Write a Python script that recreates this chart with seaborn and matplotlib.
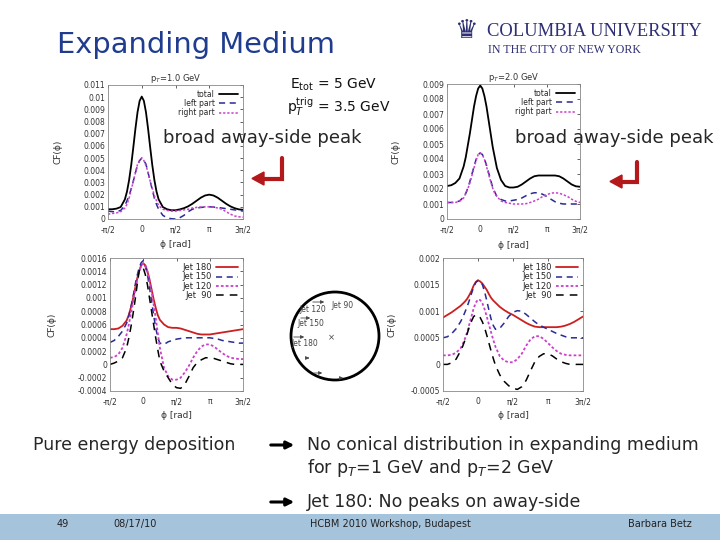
import numpy as np
import matplotlib
matplotlib.use("Agg")
import matplotlib.pyplot as plt
import seaborn as sns
from matplotlib.patches import Rectangle, Circle

# phi grid in units of pi/32 from -pi/2 to 3pi/2 (finer around the near-side peak)
phi_k = list(range(-16, -8, 2)) + list(range(-8, 9)) + list(range(10, 49, 2))

# top left panel: pT = 1.0 GeV
tl_total = [0.00080, 0.00080, 0.00085, 0.00098, 0.00161,
            0.00225, 0.00319, 0.00442, 0.00588, 0.00741, 0.00877, 0.00970, 0.01005, 0.00970,
            0.00877, 0.00741, 0.00588, 0.00442, 0.00319, 0.00225, 0.00161,
            0.00098, 0.00080, 0.00072, 0.00072, 0.00079, 0.00089, 0.00104, 0.00125, 0.00150,
            0.00175, 0.00193, 0.00200, 0.00193, 0.00175, 0.00150, 0.00125, 0.00104, 0.00089,
            0.00079, 0.00076]
tl_left = [0.00065, 0.00060, 0.00060, 0.00070, 0.00110,
           0.00150, 0.00190, 0.00250, 0.00310, 0.00380, 0.00440, 0.00480, 0.00500, 0.00480,
           0.00450, 0.00380, 0.00310, 0.00240, 0.00170, 0.00120, 0.00080,
           0.00030, 0.00010, 0.00002, 0.00000, 0.00010, 0.00030, 0.00060, 0.00080, 0.00090,
           0.00095, 0.00098, 0.00100, 0.00098, 0.00095, 0.00090, 0.00085, 0.00080, 0.00075,
           0.00070, 0.00065]
tl_right = [0.00040, 0.00045, 0.00050, 0.00060, 0.00090,
            0.00120, 0.00170, 0.00240, 0.00310, 0.00380, 0.00450, 0.00480, 0.00500, 0.00480,
            0.00440, 0.00380, 0.00310, 0.00250, 0.00190, 0.00150, 0.00110,
            0.00080, 0.00070, 0.00065, 0.00065, 0.00070, 0.00075, 0.00080, 0.00090, 0.00095,
            0.00098, 0.00100, 0.00100, 0.00098, 0.00090, 0.00080, 0.00060, 0.00040, 0.00025,
            0.00018, 0.00015]

# top right panel: pT = 2.0 GeV
tr_total = [0.00220, 0.00225, 0.00240, 0.00270, 0.00350,
            0.00410, 0.00490, 0.00570, 0.00660, 0.00750, 0.00820, 0.00870, 0.00890, 0.00870,
            0.00820, 0.00750, 0.00660, 0.00570, 0.00480, 0.00410, 0.00340,
            0.00260, 0.00220, 0.00210, 0.00210, 0.00215, 0.00230, 0.00250, 0.00270, 0.00285,
            0.00290, 0.00290, 0.00290, 0.00290, 0.00290, 0.00285, 0.00270, 0.00250, 0.00230,
            0.00218, 0.00215]
tr_left = [0.00110, 0.00110, 0.00112, 0.00120, 0.00146,
           0.00170, 0.00205, 0.00250, 0.00300, 0.00350, 0.00397, 0.00430, 0.00440, 0.00430,
           0.00400, 0.00360, 0.00310, 0.00260, 0.00210, 0.00180, 0.00150,
           0.00130, 0.00120, 0.00120, 0.00125, 0.00130, 0.00140, 0.00155, 0.00168, 0.00175,
           0.00175, 0.00165, 0.00150, 0.00132, 0.00115, 0.00105, 0.00100, 0.00100, 0.00100,
           0.00100, 0.00100]
tr_right = [0.00110, 0.00110, 0.00110, 0.00118, 0.00140,
            0.00170, 0.00200, 0.00240, 0.00290, 0.00340, 0.00390, 0.00430, 0.00440, 0.00430,
            0.00397, 0.00350, 0.00300, 0.00250, 0.00205, 0.00170, 0.00150,
            0.00120, 0.00110, 0.00105, 0.00100, 0.00100, 0.00100, 0.00102, 0.00110, 0.00120,
            0.00132, 0.00150, 0.00162, 0.00172, 0.00175, 0.00172, 0.00162, 0.00150, 0.00132,
            0.00118, 0.00110]

# bottom left panel: jets
bl_jet180 = [0.00053, 0.00053, 0.00054, 0.00058, 0.00066,
             0.00074, 0.00085, 0.00098, 0.00113, 0.00128, 0.00140, 0.00149, 0.00152, 0.00149,
             0.00140, 0.00128, 0.00113, 0.00098, 0.00085, 0.00074, 0.00067,
             0.00060, 0.00056, 0.00055, 0.00055, 0.00054, 0.00052, 0.00050, 0.00048, 0.00046,
             0.00045, 0.00045, 0.00045, 0.00046, 0.00047, 0.00048, 0.00049, 0.00050, 0.00051,
             0.00052, 0.00053]
bl_jet150 = [0.00033, 0.00036, 0.00042, 0.00050, 0.00062,
             0.00072, 0.00085, 0.00100, 0.00118, 0.00133, 0.00145, 0.00153, 0.00156, 0.00148,
             0.00135, 0.00116, 0.00095, 0.00074, 0.00055, 0.00040, 0.00032,
             0.00030, 0.00034, 0.00036, 0.00038, 0.00039, 0.00040, 0.00040, 0.00040, 0.00040,
             0.00040, 0.00040, 0.00040, 0.00039, 0.00038, 0.00036, 0.00035, 0.00034, 0.00033,
             0.00032, 0.00032]
bl_jet120 = [0.00010, 0.00011, 0.00015, 0.00025, 0.00045,
             0.00059, 0.00075, 0.00092, 0.00110, 0.00126, 0.00140, 0.00148, 0.00152, 0.00148,
             0.00140, 0.00126, 0.00110, 0.00090, 0.00070, 0.00047, 0.00025,
             -0.00005, -0.00018, -0.00023, -0.00023, -0.00020, -0.00012, -0.00002, 0.00010,
             0.00020, 0.00027, 0.00030, 0.00030, 0.00027, 0.00022, 0.00017, 0.00013, 0.00010,
             0.00009, 0.00008, 0.00008]
bl_jet90 = [0.00000, 0.00002, 0.00005, 0.00010, 0.00025,
            0.00039, 0.00055, 0.00074, 0.00095, 0.00118, 0.00140, 0.00146, 0.00145, 0.00135,
            0.00120, 0.00100, 0.00080, 0.00060, 0.00040, 0.00022, 0.00005,
            -0.00010, -0.00020, -0.00030, -0.00035, -0.00036, -0.00030, -0.00018, -0.00005,
            0.00003, 0.00007, 0.00010, 0.00010, 0.00009, 0.00007, 0.00005, 0.00003, 0.00001,
            0.00000, 0.00000, 0.00000]

# bottom right panel: jets
br_jet180 = [0.00088, 0.00093, 0.00098, 0.00104, 0.00110,
             0.00114, 0.00118, 0.00123, 0.00130, 0.00138, 0.00148, 0.00155, 0.00158, 0.00156,
             0.00152, 0.00146, 0.00140, 0.00132, 0.00125, 0.00120, 0.00116,
             0.00108, 0.00102, 0.00097, 0.00093, 0.00088, 0.00083, 0.00078, 0.00074, 0.00071,
             0.00070, 0.00070, 0.00070, 0.00070, 0.00070, 0.00071, 0.00073, 0.00076, 0.00080,
             0.00085, 0.00090]
br_jet150 = [0.00050, 0.00052, 0.00058, 0.00067, 0.00080,
             0.00088, 0.00098, 0.00108, 0.00120, 0.00133, 0.00145, 0.00154, 0.00158, 0.00156,
             0.00150, 0.00137, 0.00120, 0.00102, 0.00085, 0.00073, 0.00066,
             0.00068, 0.00078, 0.00090, 0.00098, 0.00101, 0.00100, 0.00094, 0.00087, 0.00080,
             0.00074, 0.00070, 0.00066, 0.00062, 0.00058, 0.00055, 0.00052, 0.00050, 0.00050,
             0.00050, 0.00050]
br_jet120 = [0.00017, 0.00017, 0.00018, 0.00022, 0.00030,
             0.00038, 0.00048, 0.00060, 0.00075, 0.00090, 0.00105, 0.00116, 0.00122, 0.00121,
             0.00115, 0.00104, 0.00090, 0.00075, 0.00060, 0.00046, 0.00033,
             0.00015, 0.00007, 0.00004, 0.00004, 0.00010, 0.00020, 0.00035, 0.00047, 0.00053,
             0.00053, 0.00048, 0.00040, 0.00032, 0.00025, 0.00020, 0.00018, 0.00017, 0.00017,
             0.00017, 0.00017]
br_jet90 = [0.00000, 0.00000, 0.00003, 0.00010, 0.00025,
            0.00034, 0.00045, 0.00057, 0.00070, 0.00081, 0.00090, 0.00093, 0.00093, 0.00088,
            0.00080, 0.00069, 0.00055, 0.00040, 0.00025, 0.00011, -0.00002,
            -0.00020, -0.00032, -0.00040, -0.00045, -0.00047, -0.00042, -0.00030, -0.00012,
            0.00005, 0.00015, 0.00020, 0.00020, 0.00016, 0.00010, 0.00005, 0.00002, 0.00000,
            0.00000, 0.00000, 0.00000]

x_tick_labels = ["-π/2", "0", "π/2", "π", "3π/2"]
tl_yticks = [i * 0.001 for i in range(12)]
tl_ylabels = ["0", "0.001", "0.002", "0.003", "0.004", "0.005", "0.006", "0.007", "0.008",
              "0.009", "0.01", "0.011"]
tr_yticks = [i * 0.001 for i in range(10)]
tr_ylabels = ["0", "0.001", "0.002", "0.003", "0.004", "0.005", "0.006", "0.007", "0.008", "0.009"]
bl_yticks = [-0.0004 + i * 0.0002 for i in range(11)]
bl_ylabels = ["-0.0004", "-0.0002", "0", "0.0002", "0.0004", "0.0006", "0.0008", "0.001",
              "0.0012", "0.0014", "0.0016"]
br_yticks = [-0.0005 + i * 0.0005 for i in range(6)]
br_ylabels = ["-0.0005", "0", "0.0005", "0.001", "0.0015", "0.002"]

NAVY = "#2a2a96"
PINK = "#cc3fcc"
RED = "#cc1f1f"

sns.set_style("white")
plt.rcParams["font.family"] = ["DejaVu Sans"]

fig = plt.figure(figsize=(7.2, 5.4), dpi=100)
phi = np.array(phi_k) * np.pi / 32


def px_axes(x0, y0, x1, y1):
    return fig.add_axes([x0 / 720, 1 - y1 / 540, (x1 - x0) / 720, (y1 - y0) / 540])


def draw_panel(ax, series, ylim, yticks, ylabels, title, ylab_x, xlab_y, legsize):
    for label, vals, color, ls, lw in series:
        sns.lineplot(x=phi, y=vals, ax=ax, color=color, linestyle=ls, lw=lw, label=label)
    ax.set_xlim(-np.pi / 2, 3 * np.pi / 2)
    ax.set_ylim(*ylim)
    ax.set_xticks([-np.pi / 2, 0, np.pi / 2, np.pi, 3 * np.pi / 2])
    ax.set_xticklabels(x_tick_labels)
    ax.set_yticks(yticks)
    ax.set_yticklabels(ylabels)
    ax.tick_params(direction="in", top=True, right=True, length=2.5, width=0.5,
                   labelsize=5.5, labelcolor="#333333", pad=2)
    ax.tick_params(axis="x", pad=4.5)
    for sp in ax.spines.values():
        sp.set_color("#888888")
        sp.set_linewidth(0.6)
    ax.set_ylabel("CF(ϕ)", fontsize=6.5, color="#333333")
    ax.set_xlabel("ϕ [rad]", fontsize=6.5, color="#333333")
    ax.yaxis.set_label_coords(ylab_x, 0.5)
    ax.xaxis.set_label_coords(0.5, xlab_y)
    if title:
        ax.set_title(title, fontsize=6, pad=3, color="#333333")
    ax.legend(loc="upper right", frameon=False, markerfirst=False, fontsize=legsize,
              handlelength=2.6, labelspacing=0.05, borderaxespad=0.2, handletextpad=0.5)


ax_tl = px_axes(108, 85, 243, 219)
draw_panel(ax_tl, [("total", tl_total, "black", "-", 1.3),
                   ("left part", tl_left, NAVY, (0, (4, 3)), 1.1),
                   ("right part", tl_right, PINK, (0, (1.5, 1.2)), 1.1)],
           (0, 0.011), tl_yticks, tl_ylabels, "p$_T$=1.0 GeV", -0.34, -0.16, 5.5)

ax_tr = px_axes(447, 84, 580, 219)
draw_panel(ax_tr, [("total", tr_total, "black", "-", 1.3),
                   ("left part", tr_left, NAVY, (0, (4, 3)), 1.1),
                   ("right part", tr_right, PINK, (0, (1.5, 1.2)), 1.1)],
           (0, 0.009), tr_yticks, tr_ylabels, "p$_T$=2.0 GeV", -0.35, -0.16, 5.5)

jet_style = [("Jet 180", RED, "-", 1.3), ("Jet 150", NAVY, (0, (4, 3)), 1.1),
             ("Jet 120", PINK, (0, (1.5, 1.2)), 1.3), ("Jet  90", "black", (0, (5, 4)), 1.1)]

ax_bl = px_axes(110, 258, 243, 391)
draw_panel(ax_bl, [(n, v, c, s, w) for (n, c, s, w), v in
                   zip(jet_style, [bl_jet180, bl_jet150, bl_jet120, bl_jet90])],
           (-0.0004, 0.0016), bl_yticks, bl_ylabels, None, -0.40, -0.15, 6)

ax_br = px_axes(443, 258, 583, 391)
draw_panel(ax_br, [(n, v, c, s, w) for (n, c, s, w), v in
                   zip(jet_style, [br_jet180, br_jet150, br_jet120, br_jet90])],
           (-0.0005, 0.002), br_yticks, br_ylabels, None, -0.33, -0.15, 6)

# slide overlay in pixel coordinates
ov = fig.add_axes([0, 0, 1, 1], zorder=10)
ov.set_xlim(0, 720)
ov.set_ylim(540, 0)
ov.axis("off")
ov.patch.set_alpha(0)

ov.text(57, 45, "Expanding Medium", fontsize=20.8, color="#1f3c8f", va="center", ha="left")

# Columbia logo
logo = "#2e2f74"
ov.text(466, 31, "♛", fontsize=19, color=logo, ha="center", va="center")
ov.text(487, 32, "COLUMBIA UNIVERSITY", fontsize=13.4, family="Liberation Serif", color=logo,
        va="center", ha="left")
ov.text(488, 50, "IN THE CITY OF NEW YORK", fontsize=8.6, family="Liberation Serif", color=logo,
        va="center", ha="left")

ov.text(290, 85, "E$_{\\mathrm{tot}}$ = 5 GeV", fontsize=10, va="center", ha="left", color="#111111")
ov.text(287, 107, "p$_T^{\\mathrm{trig}}$ = 3.5 GeV", fontsize=10, va="center", ha="left",
        color="#111111")

ov.text(163, 138, "broad away-side peak", fontsize=13, va="center", ha="left")
ov.text(515, 138, "broad away-side peak", fontsize=13, va="center", ha="left")

# red return arrows
ARR = "#b3181b"
ov.plot([281.5, 281.5, 262], [158, 178.5, 178.5], color=ARR, lw=3, solid_joinstyle="miter")
ov.fill([252, 264, 264], [178.5, 172, 185], color=ARR)
ov.plot([636.5, 636.5, 620], [162, 181.5, 181.5], color=ARR, lw=3, solid_joinstyle="miter")
ov.fill([610, 622, 622], [181.5, 175, 188], color=ARR)

# jet sketch in the middle
ov.add_patch(Circle((335, 336), 44, fill=False, lw=2, color="black"))
sk = "#444444"
for (x0, x1, y) in [(310, 327, 302), (298, 313, 318), (291, 307, 337), (305, 312, 358),
                    (311, 325, 373), (338, 346, 378)]:
    ov.annotate("", xy=(x1, y), xytext=(x0, y),
                arrowprops=dict(arrowstyle="-|>", lw=0.6, color=sk, mutation_scale=5))
for (x, y, t) in [(331, 305, "Jet 90"), (299, 310, "Jet 120"), (297, 324, "Jet 150"),
                  (291, 344, "Jet 180")]:
    ov.text(x, y, t, fontsize=5.5, color=sk, va="center", ha="left")
ov.text(331, 338, "×", fontsize=6, color=sk, va="center", ha="center")

# bottom statements
ov.text(33, 445, "Pure energy deposition", fontsize=12.5, va="center", ha="left")
for y in (445, 502):
    ov.annotate("", xy=(297, y), xytext=(268, y),
                arrowprops=dict(arrowstyle="-|>", lw=2.2, color="black", mutation_scale=11))
ov.text(307, 445, "No conical distribution in expanding medium", fontsize=12.5, va="center",
        ha="left")
ov.text(307, 468, "for p$_T$=1 GeV and p$_T$=2 GeV", fontsize=12.5, va="center", ha="left")
ov.text(307, 502, "Jet 180: No peaks on away-side", fontsize=12.5, va="center", ha="left")

# footer bar
ov.add_patch(Rectangle((0, 514), 720, 26, color="#a6c3dc", lw=0))
for (x, t) in [(63, "49"), (135, "08/17/10"), (390, "HCBM 2010 Workshop, Budapest"),
               (660, "Barbara Betz")]:
    ov.text(x, 524, t, fontsize=7, ha="center", va="center", color="#222222")

fig.savefig("out.png", dpi=100)
